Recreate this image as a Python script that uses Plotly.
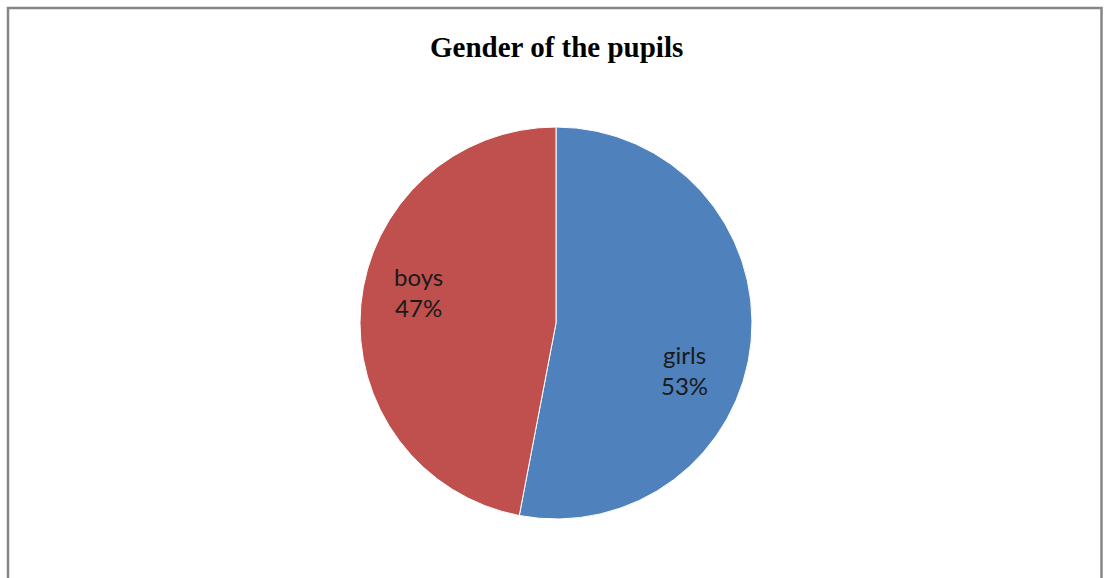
import plotly.graph_objects as go

categories = ["girls", "boys"]
percentages = [53, 47]
colors = ["#4F81BD", "#C0504D"]
title_text = "Gender of the pupils"

W, H = 1104, 578
cx, cy, R = 556, 323, 196

fig = go.Figure()
fig.add_trace(go.Pie(
    labels=categories,
    values=percentages,
    sort=False,
    direction="clockwise",
    rotation=0,
    marker=dict(colors=colors, line=dict(color="white", width=1)),
    textinfo="none",
    hoverinfo="label+percent",
    showlegend=False,
    domain=dict(x=[(cx - R) / W, (cx + R) / W], y=[1 - (cy + R) / H, 1 - (cy - R) / H]),
))

# label positions (pixel centres) for each category
label_pos = {"girls": (684, 370), "boys": (418, 292)}
for cat, pct in zip(categories, percentages):
    px, py = label_pos[cat]
    fig.add_annotation(
        x=px / W, y=1 - py / H, xref="paper", yref="paper",
        text=f"{cat}<br>{pct}%", showarrow=False,
        font=dict(family="Lato, Carlito, sans-serif", size=24, color="#1a1a1a"),
        xanchor="center", yanchor="middle", align="center",
    )

fig.add_annotation(
    x=556 / W, y=1 - 47 / H, xref="paper", yref="paper",
    text=f"<b>{title_text}</b>", showarrow=False,
    font=dict(family="Liberation Serif, Times New Roman, serif", size=29, color="#000000"),
    xanchor="center", yanchor="middle",
)

# chart frame
fig.add_shape(
    type="rect", xref="paper", yref="paper",
    x0=8 / W, x1=1101.5 / W, y0=-0.2, y1=1 - 8 / H,
    line=dict(color="#868686", width=2.5), fillcolor="rgba(0,0,0,0)",
)

fig.update_layout(
    width=W, height=H,
    margin=dict(l=0, r=0, t=0, b=0),
    paper_bgcolor="white", plot_bgcolor="white",
)

fig.write_html("out.html", config={"displayModeBar": False},
               post_script="document.body.style.margin='0';")
